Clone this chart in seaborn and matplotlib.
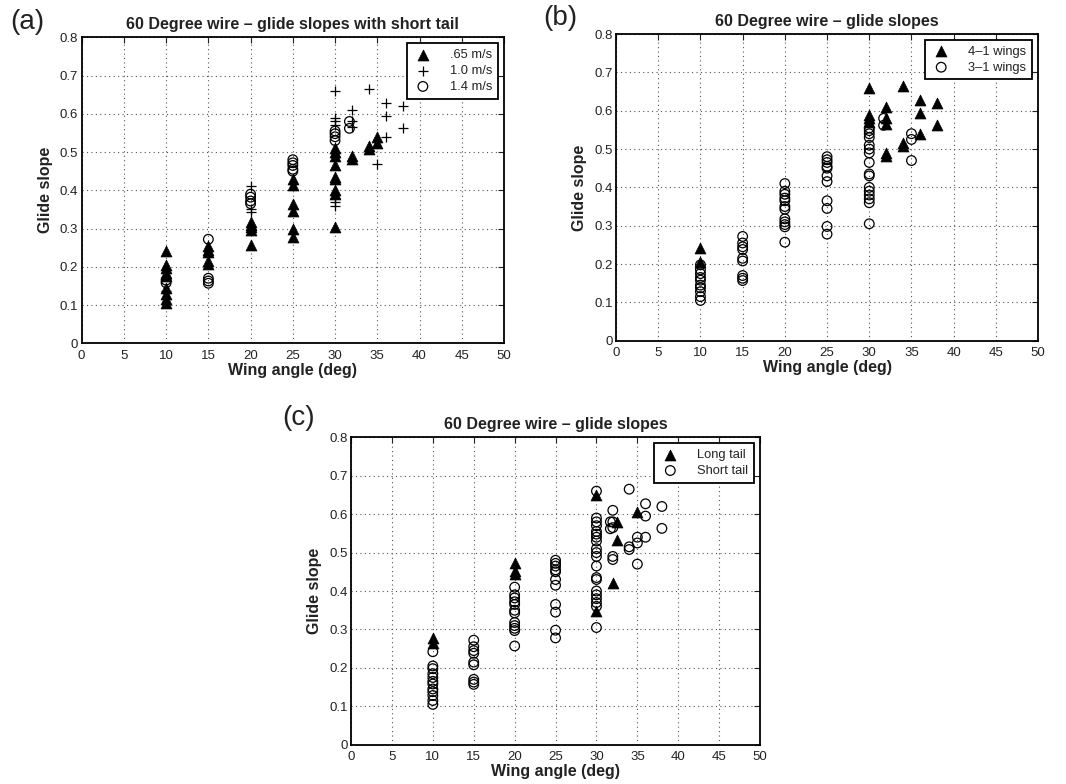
import numpy as np
import pandas as pd
import matplotlib
matplotlib.use("Agg")
import matplotlib.pyplot as plt
import seaborn as sns

# ---------------- data ----------------
# Short-tail runs: wing angle, glide slope, tunnel speed, wing type
short_angle = (
    [10] * 12 + [15] * 9 + [20] * 12 + [25] * 11 + [30] * 20
    + [31.7] * 2 + [32] * 5 + [34] * 3 + [35] * 3 + [36] * 3 + [38] * 2
)
short_slope = [
    # 10 deg
    0.242, 0.205, 0.198, 0.185, 0.175, 0.145, 0.128, 0.115, 0.105, 0.138, 0.165, 0.158,
    # 15 deg
    0.255, 0.245, 0.238, 0.215, 0.208, 0.272, 0.170, 0.163, 0.157,
    # 20 deg
    0.318, 0.310, 0.303, 0.297, 0.257, 0.410, 0.350, 0.343, 0.390, 0.382, 0.372, 0.365,
    # 25 deg
    0.430, 0.415, 0.365, 0.345, 0.298, 0.278, 0.480, 0.472, 0.465, 0.455, 0.450,
    # 30 deg
    0.510, 0.500, 0.490, 0.465, 0.435, 0.430, 0.400, 0.390, 0.305,
    0.660, 0.590, 0.580, 0.570, 0.380, 0.370, 0.360,
    0.555, 0.548, 0.540, 0.530,
    # 31.7 deg
    0.580, 0.562,
    # 32 deg
    0.490, 0.482, 0.610, 0.580, 0.565,
    # 34 deg
    0.515, 0.508, 0.665,
    # 35 deg
    0.540, 0.525, 0.470,
    # 36 deg
    0.627, 0.595, 0.540,
    # 38 deg
    0.620, 0.563,
]
short_speed = (
    [".65 m/s"] * 9 + ["1.0 m/s"] + ["1.4 m/s"] * 2
    + [".65 m/s"] * 5 + ["1.4 m/s"] * 4
    + [".65 m/s"] * 5 + ["1.0 m/s"] * 3 + ["1.4 m/s"] * 4
    + [".65 m/s"] * 6 + ["1.4 m/s"] * 5
    + [".65 m/s"] * 9 + ["1.0 m/s"] * 7 + ["1.4 m/s"] * 4
    + ["1.4 m/s"] * 2
    + [".65 m/s"] * 2 + ["1.0 m/s"] * 3
    + [".65 m/s"] * 2 + ["1.0 m/s"]
    + [".65 m/s"] * 2 + ["1.0 m/s"]
    + ["1.0 m/s"] * 3
    + ["1.0 m/s"] * 2
)
short_wing = (
    ["4\u20131 wings"] * 2 + ["3\u20131 wings"] * 10
    + ["3\u20131 wings"] * 9
    + ["3\u20131 wings"] * 12
    + ["3\u20131 wings"] * 11
    + ["3\u20131 wings"] * 9 + ["4\u20131 wings"] * 4 + ["3\u20131 wings"] * 3 + ["3\u20131 wings"] * 4
    + ["3\u20131 wings"] * 2
    + ["4\u20131 wings"] * 5
    + ["4\u20131 wings"] * 3
    + ["3\u20131 wings"] * 3
    + ["4\u20131 wings"] * 3
    + ["4\u20131 wings"] * 2
)

# Long-tail runs
long_angle = [10, 10, 20, 20, 20, 30, 30, 32, 32.5, 32.5, 35]
long_slope = [0.278, 0.266, 0.472, 0.453, 0.444, 0.651, 0.347, 0.421, 0.579, 0.533, 0.605]

speed_levels = [".65 m/s", "1.0 m/s", "1.4 m/s"]
wing_levels = ["4\u20131 wings", "3\u20131 wings"]
tail_levels = ["Long tail", "Short tail"]

x_ticks = list(range(0, 55, 5))
y_ticks = [0, 0.1, 0.2, 0.3, 0.4, 0.5, 0.6, 0.7, 0.8]
y_ticklabels = ["0", "0.1", "0.2", "0.3", "0.4", "0.5", "0.6", "0.7", "0.8"]

titles = [
    "60 Degree wire \u2013 glide slopes with short tail",
    "60 Degree wire \u2013 glide slopes",
    "60 Degree wire \u2013 glide slopes",
]
panel_tags = ["(a)", "(b)", "(c)"]

short_df = pd.DataFrame({"angle": short_angle, "slope": short_slope,
                         "speed": short_speed, "wing": short_wing})
long_df = pd.DataFrame({"angle": long_angle, "slope": long_slope})

# ---------------- style ----------------
sns.set_style("white")
plt.rcParams["font.family"] = ["Liberation Sans", "DejaVu Sans"]
plt.rcParams["xtick.direction"] = "in"
plt.rcParams["ytick.direction"] = "in"

fig = plt.figure(figsize=(10.66, 7.84), dpi=100)
ax_a = fig.add_axes([0.0766, 0.5621, 0.3962, 0.3903])
ax_b = fig.add_axes([0.5779, 0.5654, 0.3959, 0.3912])
ax_c = fig.add_axes([0.3293, 0.0501, 0.3837, 0.3921])

tri_kw = dict(marker="^", color="black", edgecolor="black", s=62, linewidth=0.5)
plus_kw = dict(marker="+", color="black", s=50, linewidth=0.9)
circ_kw = dict(marker="o", facecolor="none", edgecolor="black", s=48, linewidth=0.9)
style_for = {0: tri_kw, 1: plus_kw, 2: circ_kw}

# Panel (a): split by speed
for i, lvl in enumerate(speed_levels):
    sub = short_df[short_df["speed"] == lvl]
    sns.scatterplot(data=sub, x="angle", y="slope", ax=ax_a, label=lvl, **style_for[i])

# Panel (b): split by wing type
for lvl, kw in zip(wing_levels, [tri_kw, circ_kw]):
    sub = short_df[short_df["wing"] == lvl]
    sns.scatterplot(data=sub, x="angle", y="slope", ax=ax_b, label=lvl, **kw)

# Panel (c): long tail vs short tail
sns.scatterplot(data=long_df, x="angle", y="slope", ax=ax_c, label=tail_levels[0], **tri_kw)
sns.scatterplot(data=short_df, x="angle", y="slope", ax=ax_c, label=tail_levels[1], **circ_kw)

for ax, title in zip([ax_a, ax_b, ax_c], titles):
    ax.set_xlim(0, 50)
    ax.set_ylim(0, 0.8)
    ax.set_xticks(x_ticks)
    ax.set_yticks(y_ticks)
    ax.set_yticklabels(y_ticklabels)
    ax.tick_params(axis="both", labelsize=9.5, length=4, width=0.8,
                   top=True, right=True, colors="#222222")
    ax.tick_params(axis="x", pad=4.5)
    ax.tick_params(axis="y", pad=2.5)
    ax.grid(True, linestyle=(0, (1, 3)), color="#555555", linewidth=0.8)
    ax.set_axisbelow(True)
    for sp in ax.spines.values():
        sp.set_visible(True)
        sp.set_color("black")
        sp.set_linewidth(1.3)
    ax.set_title(title, fontsize=11.5, fontweight="bold", pad=6, color="#222222")
    ax.set_xlabel("Wing angle (deg)", fontsize=11.5, fontweight="bold", labelpad=1,
                  color="#222222")
    ax.set_ylabel("Glide slope", fontsize=11.5, fontweight="bold", labelpad=5,
                  color="#222222")
    leg = ax.legend(loc="upper right", fontsize=9.3, frameon=True, fancybox=False,
                    edgecolor="black", borderpad=0.45, handletextpad=1.3,
                    labelspacing=0.3, borderaxespad=0.45, handlelength=1.6,
                    scatterpoints=1)
    leg.get_frame().set_linewidth(1.3)
    leg.get_frame().set_alpha(1)
    for t in leg.get_texts():
        t.set_color("#222222")

fig.text(0.0255, 0.972, panel_tags[0], fontsize=20, ha="center", va="center",
         color="#222222")
fig.text(0.526, 0.977, panel_tags[1], fontsize=20, ha="center", va="center",
         color="#222222")
fig.text(0.2805, 0.467, panel_tags[2], fontsize=20, ha="center", va="center",
         color="#222222")

fig.savefig("out.png", dpi=100)
